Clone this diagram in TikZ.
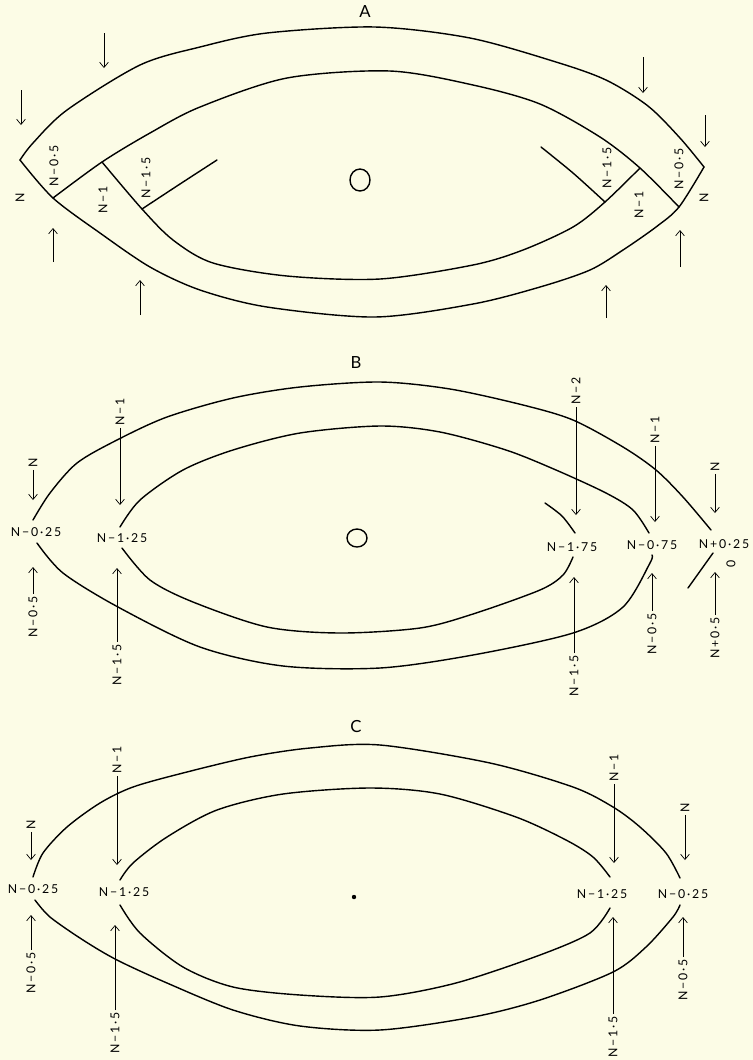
\documentclass[tikz,border=0pt]{standalone}
\usepackage{fontspec}
\setmainfont{Lato}
\newfontfamily\labfont[LetterSpace=15]{Lato}
\usetikzlibrary{arrows.meta}
\definecolor{paper}{RGB}{252,252,230}

\tikzset{
  lab/.style={font=\labfont\fontsize{7}{8}\selectfont, inner sep=1pt},
  vlab/.style={lab, rotate=90},
  paneltitle/.style={font=\fontsize{9.5}{11}\selectfont, inner sep=0pt},
  rim/.style={thick, line cap=round},
  arr/.style={->, thin},
}

\begin{document}
\begin{tikzpicture}[x=0.2mm,y=-0.2mm,>={Straight Barb[length=3pt,width=5pt]}]

\fill[paper] (0,0) rectangle (753,1060);
\useasboundingbox (0,0) rectangle (753,1060);

% --------------------------------------------------
% A: lens with pointed ends
% --------------------------------------------------
\node[paneltitle] (titleA) at (365,12) {A};

\draw[rim] plot[smooth] coordinates{
    (20,160) (33,143) (67,110) (140,65) (200,47) (267,33)
    (375,27) (470,38) (556,62) (606,80) (648,106)
    (680,138) (704,167)};
\draw[rim] plot[smooth] coordinates{
    (20,160) (53,198) (100,233) (150,267) (200,290) (267,307) (375,317)
    (473,304) (540,287) (590,270) (623,250) (656,227) (679,207)
    (704,167)};
\draw[rim] plot[smooth] coordinates{
    (53,198) (102,162) (150,133) (200,107) (287,78) (390,71)
    (473,85) (540,104) (600,137) (640,168) (679,207)};
\draw[rim] plot[smooth] coordinates{
    (102,162) (142,209) (173,240) (213,263) (287,276)
    (380,279) (473,265) (523,250) (573,227) (605,202) (640,168)};
\draw[rim] plot[smooth] coordinates{(142,209) (180,184) (217,160)};
\draw[rim] plot[smooth] coordinates{(605,202) (573,173) (541,147)};

\draw[thick] (360,180) ellipse [x radius=10, y radius=11];

\node[vlab] (aN) at (20,198) {N};
\node[vlab] (aN05) at (54,166) {N−0·5};
\node[vlab] (aN1) at (103,200) {N−1};
\node[vlab] (aN15) at (146,178) {N−1·5};
\node[vlab] (aN15r) at (607,168) {N−1·5};
\node[vlab] (aN1r) at (639,205) {N−1};
\node[vlab] (aN05r) at (679,169) {N−0·5};
\node[vlab] (aNr) at (704,198) {N};

\foreach \x/\ya/\yb [count=\i] in {21/90/125, 104/33/68, 643/57/93,
    705/115/147, 53/262/228, 140/315/280, 680/267/230, 606/318/285} {
  \coordinate (at\i) at (\x,\ya);
  \coordinate (ah\i) at (\x,\yb);
  \draw[arr] (at\i) -- (ah\i);
}

% --------------------------------------------------
% B: open curves, shifted ends
% --------------------------------------------------
\node[paneltitle] (titleB) at (356,363) {B};

\draw[rim] plot[smooth] coordinates{
    (33,520) (50,493) (77,463) (117,440) (167,417) (233,398) (300,387)
    (380,382) (450,389) (523,405) (573,420) (623,447)
    (656,470) (683,497) (711,530)};
\draw[rim] plot[smooth] coordinates{
    (37,543) (63,573) (118,607) (200,647) (283,666) (380,668)
    (473,655) (573,633) (623,607) (650,563) (652,555)};
\draw[rim] plot[smooth] coordinates{
    (120,527) (140,500) (183,470) (233,450) (300,433)
    (380,426) (440,432) (506,450) (556,470) (606,493) (633,510) (649,533)};
\draw[rim] plot[smooth] coordinates{
    (122,548) (150,580) (193,602) (267,627) (340,633)
    (420,628) (473,614) (540,590) (563,575) (573,557)};
\draw[rim] plot[smooth] coordinates{(545,503) (562,516) (575,533)};
\draw[rim] (713,553) -- (688,588);

\draw[thick] (357,538) ellipse [x radius=10, y radius=9];

\node[lab] (bE1) at (36,532) {N−0·25};
\node[lab] (bE2) at (122,538) {N−1·25};
\node[lab] (bE3) at (572,547) {N−1·75};
\node[lab] (bE4) at (652,545) {N−0·75};
\node[lab] (bE5) at (724,544) {N+0·25};
\node[vlab] (bzero) at (731,564) {0};

\node[vlab] (bN) at (33,463) {N};
\node[vlab] (bN1) at (120,412) {N−1};
\node[vlab] (bN05) at (33,617) {N−0·5};
\node[vlab] (bN15) at (117,665) {N−1·5};
\node[vlab] (bN2) at (576,391) {N−2};
\node[vlab] (bN1r) at (655,430) {N−1};
\node[vlab] (bNr) at (715,467) {N};
\node[vlab] (bN15r) at (574,676) {N−1·5};
\node[vlab] (bN05r) at (652,634) {N−0·5};
\node[vlab] (bNp05) at (715,638) {N+0·5};

\coordinate (bNh) at (33,500);
\coordinate (bN1h) at (120,505);
\coordinate (bN05h) at (33,567);
\coordinate (bN15h) at (117,568);
\coordinate (bN2h) at (576,515);
\coordinate (bN1rh) at (655,522);
\coordinate (bNrh) at (715,513);
\coordinate (bN15rh) at (574,577);
\coordinate (bN05rh) at (652,573);
\coordinate (bNp05h) at (715,572);

\foreach \n in {bN,bN1,bN05,bN15,bN2,bN1r,bNr,bN15r,bN05r,bNp05}
  \draw[arr] (\n) -- (\n h);

% --------------------------------------------------
% C: symmetric open curves
% --------------------------------------------------
\node[paneltitle] (titleC) at (356,727) {C};

\draw[rim] plot[smooth] coordinates{
    (33,877) (43,853) (67,827) (100,803) (133,787) (183,773) (250,757)
    (310,748) (380,745) (490,763) (573,787) (613,807)
    (640,827) (666,853) (680,878)};
\draw[rim] plot[smooth] coordinates{
    (35,900) (50,917) (83,940) (117,960) (167,983) (233,1010) (300,1026)
    (380,1030) (473,1017) (540,1000) (613,972) (646,947) (673,917) (680,905)};
\draw[rim] plot[smooth] coordinates{
    (120,880) (133,863) (167,837) (217,810) (283,794)
    (370,788) (440,794) (516,817) (566,840) (593,857) (610,877)};
\draw[rim] plot[smooth] coordinates{
    (120,905) (140,933) (183,967) (233,987) (300,995) (380,997)
    (456,983) (540,955) (590,933) (610,908)};

\fill (354,897) circle (2.2);

\node[lab] (cE1) at (33,889) {N−0·25};
\node[lab] (cE2) at (124,892) {N−1·25};
\node[lab] (cE3) at (602,894) {N−1·25};
\node[lab] (cE4) at (683,894) {N−0·25};

\node[vlab] (cN) at (31,825) {N};
\node[vlab] (cN1) at (117,760) {N−1};
\node[vlab] (cN05) at (31,973) {N−0·5};
\node[vlab] (cN15) at (115,1033) {N−1·5};
\node[vlab] (cN1r) at (614,768) {N−1};
\node[vlab] (cNr) at (685,808) {N};
\node[vlab] (cN15r) at (613,1037) {N−1·5};
\node[vlab] (cN05r) at (683,980) {N−0·5};

\coordinate (cNh) at (31,860);
\coordinate (cN1h) at (117,865);
\coordinate (cN05h) at (31,915);
\coordinate (cN15h) at (115,925);
\coordinate (cN1rh) at (614,863);
\coordinate (cNrh) at (685,860);
\coordinate (cN15rh) at (613,917);
\coordinate (cN05rh) at (683,917);

\foreach \n in {cN,cN1,cN05,cN15,cN1r,cNr,cN15r,cN05r}
  \draw[arr] (\n) -- (\n h);

\end{tikzpicture}
\end{document}
